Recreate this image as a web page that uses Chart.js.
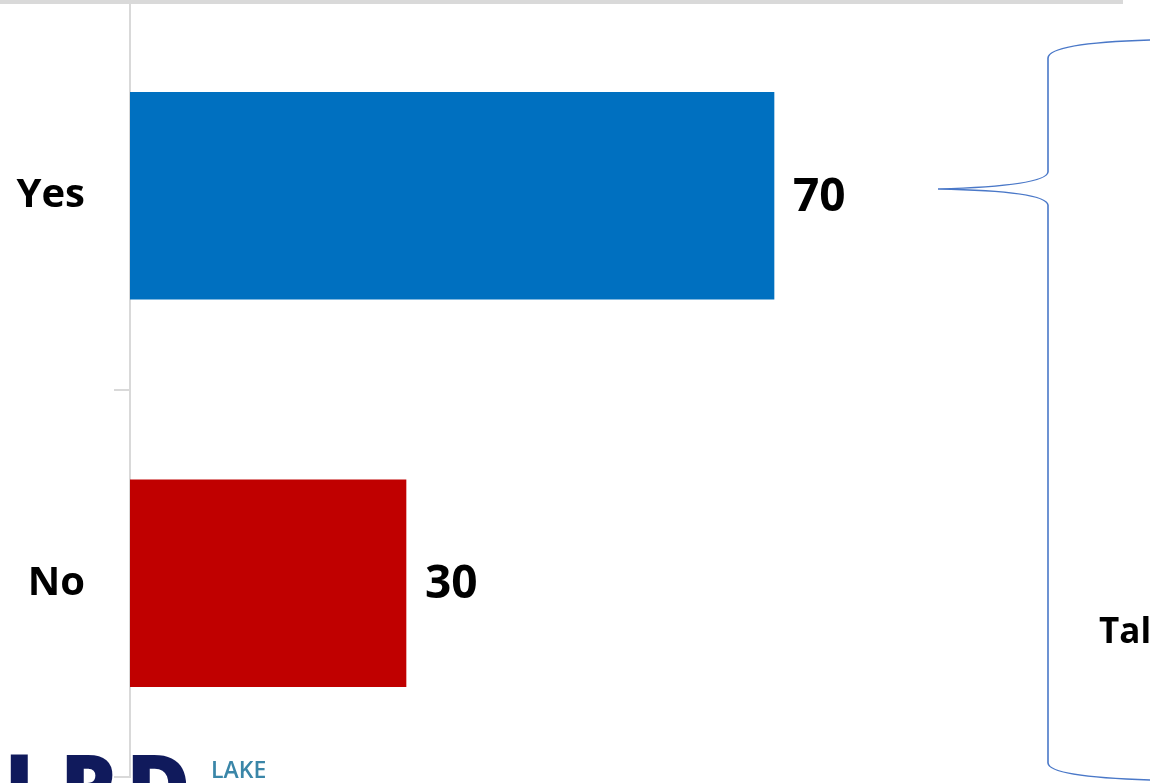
<!DOCTYPE html>
<html>
<head>
<meta charset="utf-8">
<title>Yes / No</title>
<script src="https://cdn.jsdelivr.net/npm/chart.js@4"></script>
<style>
  body { margin: 0; background: #ffffff; }
  #myChart { display: block; }
</style>
</head>
<body>
<canvas id="myChart" width="1150" height="783"></canvas>
<script>

let answerLabels = ['Yes', 'No'];
let answerValues = [70, 30];
let barColors = ['#0070c0', '#c00000'];
let axisMax = 100;

// draws the grey strip, the logo and the bracket (not data)
const decorPlugin = {
  id: 'decor',
  beforeDraw(chart) {
    let ctx = chart.ctx;
    ctx.save();
    ctx.fillStyle = '#ffffff';
    ctx.fillRect(0, 0, chart.width, chart.height);

    // logo at the bottom left
    ctx.fillStyle = '#101a5c';
    ctx.font = '800 88px "Open Sans"';
    ctx.textBaseline = 'alphabetic';
    ctx.textAlign = 'left';
    ctx.fillText('L', 4, 818);
    ctx.fillText('P', 60, 818);
    ctx.fillText('D', 126, 818);
    ctx.fillStyle = '#3a86a8';
    ctx.font = '600 23px "Open Sans"';
    ctx.fillText('LAKE', 211, 778);
    ctx.restore();
  },
  afterDraw(chart) {
    let ctx = chart.ctx;
    ctx.save();
    ctx.fillStyle = '#d9d9d9';
    ctx.fillRect(0, 0, 1123, 4);

    ctx.strokeStyle = '#4a78c8';
    ctx.lineWidth = 1.6;
    ctx.beginPath();
    ctx.moveTo(1152, 40);
    ctx.quadraticCurveTo(1049, 43, 1048, 58);
    ctx.lineTo(1048, 172);
    ctx.quadraticCurveTo(1046, 186, 938, 189);
    ctx.quadraticCurveTo(1046, 191, 1048, 205);
    ctx.lineTo(1048, 763);
    ctx.quadraticCurveTo(1049, 777, 1152, 780);
    ctx.stroke();

    ctx.fillStyle = '#000000';
    ctx.font = 'bold 35px "Open Sans"';
    ctx.textBaseline = 'middle';
    ctx.fillText('Tal', 1099, 633);
    ctx.restore();
  }
};

// value labels to the right of the bars
const valueLabels = {
  id: 'valueLabels',
  afterDatasetsDraw(chart) {
    let ctx = chart.ctx;
    let meta = chart.getDatasetMeta(0);
    ctx.save();
    ctx.fillStyle = '#000000';
    ctx.font = 'bold 46px "Open Sans"';
    ctx.textAlign = 'left';
    ctx.textBaseline = 'middle';
    for (let i = 0; i < meta.data.length; i++) {
      let bar = meta.data[i];
      ctx.fillText(answerValues[i], bar.x + 19, bar.y + 2);
    }
    ctx.restore();
  }
};

const data = {
  labels: answerLabels,
  datasets: [{
    data: answerValues,
    backgroundColor: barColors,
    borderWidth: 0,
    barThickness: 207
  }]
};

const config = {
  type: 'bar',
  data: data,
  options: {
    indexAxis: 'y',
    responsive: false,
    animation: false,
    layout: {
      padding: { left: 0, right: 100, top: 2, bottom: 6 }
    },
    plugins: {
      legend: { display: false },
      tooltip: { enabled: false }
    },
    scales: {
      x: {
        display: false,
        min: 0,
        max: axisMax
      },
      y: {
        afterFit(scale) {
          scale.width = 130;
          scale.paddingTop = 0;
          scale.paddingBottom = 0;
        },
        border: { color: '#d9d9d9', width: 2 },
        grid: {
          drawOnChartArea: false,
          drawTicks: true,
          tickLength: 16,
          color: '#d9d9d9',
          lineWidth: 2
        },
        ticks: {
          color: '#000000',
          padding: 29,
          font: { family: '"Open Sans"', size: 40, weight: 'bold' }
        }
      }
    }
  },
  plugins: [decorPlugin, valueLabels]
};

var myChart = new Chart(document.getElementById('myChart'), config);
</script>
</body>
</html>
